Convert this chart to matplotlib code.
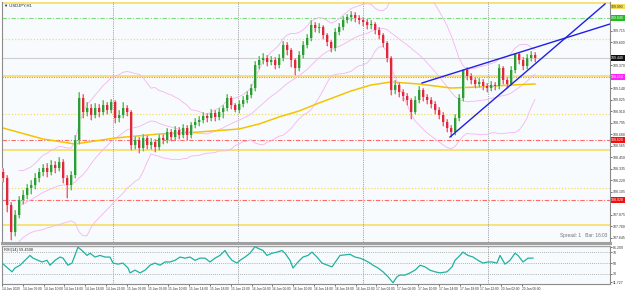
import numpy as np
import pandas as pd
import matplotlib
matplotlib.use("Agg")
import matplotlib.pyplot as plt
from matplotlib.transforms import blended_transform_factory

# ---------------- data ----------------
symbol = "USDJPY,H1"
opens = [108.30,108.24,107.97,107.70,107.87,108.02,108.07,108.14,108.17,108.24,
         108.30,108.34,108.30,108.37,108.34,108.40,108.24,108.17,108.27,108.62,
         109.04,108.90,108.94,108.87,108.94,108.90,108.97,108.92,109.00,108.84,
         108.87,108.94,108.90,108.57,108.62,108.54,108.64,108.57,108.60,108.55,
         108.64,108.62,108.70,108.65,108.72,108.67,108.74,108.67,108.77,108.80,
         108.82,108.86,108.84,108.89,108.85,108.90,108.94,109.04,108.97,108.92,
         108.98,109.02,109.07,109.14,109.37,109.42,109.44,109.40,109.42,109.37,
         109.44,109.57,109.52,109.42,109.34,109.47,109.57,109.64,109.77,109.74,
         109.75,109.67,109.60,109.54,109.70,109.75,109.82,109.85,109.87,109.84,
         109.82,109.80,109.77,109.78,109.72,109.67,109.59,109.44,109.12,109.17,
         109.10,109.06,109.02,108.90,109.02,109.12,109.05,109.02,108.98,108.92,
         108.87,108.80,108.74,108.70,108.84,109.04,109.32,109.26,109.22,109.18,
         109.20,109.16,109.14,109.17,109.16,109.34,109.22,109.18,109.32,109.48,
         109.42,109.36,109.44,109.47]
closes = [108.24,107.97,107.70,107.87,108.02,108.07,108.14,108.17,108.24,108.30,
          108.34,108.30,108.37,108.34,108.40,108.24,108.17,108.27,108.62,109.04,
          108.90,108.94,108.87,108.94,108.90,108.97,108.92,109.00,108.84,108.87,
          108.94,108.90,108.57,108.62,108.54,108.64,108.57,108.60,108.55,108.64,
          108.62,108.70,108.65,108.72,108.67,108.74,108.67,108.77,108.80,108.82,
          108.86,108.84,108.89,108.85,108.90,108.94,109.04,108.97,108.92,108.98,
          109.02,109.07,109.14,109.37,109.42,109.44,109.40,109.42,109.37,109.44,
          109.57,109.52,109.42,109.34,109.47,109.57,109.64,109.77,109.74,109.75,
          109.67,109.60,109.54,109.70,109.75,109.82,109.85,109.87,109.84,109.82,
          109.80,109.77,109.78,109.72,109.67,109.59,109.44,109.12,109.17,109.10,
          109.06,109.02,108.90,109.02,109.12,109.05,109.02,108.98,108.92,108.87,
          108.80,108.74,108.70,108.84,109.04,109.32,109.26,109.22,109.18,109.20,
          109.16,109.14,109.17,109.16,109.34,109.22,109.18,109.32,109.48,109.42,
          109.36,109.44,109.47,109.44]
highs = [108.34,108.27,108.00,107.92,108.06,108.12,108.18,108.22,108.29,108.34,
         108.38,108.39,108.42,108.41,108.45,108.43,108.27,108.31,108.67,109.10,
         109.08,109.00,108.98,108.99,108.98,109.02,109.00,109.03,109.02,108.92,
         109.00,108.97,108.92,108.66,108.65,108.68,108.67,108.64,108.63,108.68,
         108.68,108.74,108.73,108.76,108.75,108.78,108.77,108.80,108.84,108.86,
         108.90,108.89,108.93,108.92,108.94,108.97,109.08,109.06,108.99,109.02,
         109.06,109.11,109.18,109.41,109.46,109.49,109.47,109.46,109.45,109.48,
         109.61,109.60,109.54,109.44,109.51,109.61,109.68,109.82,109.80,109.79,
         109.77,109.69,109.62,109.74,109.79,109.86,109.88,109.91,109.90,109.87,
         109.85,109.83,109.82,109.80,109.75,109.69,109.61,109.46,109.22,109.20,
         109.13,109.09,109.04,109.06,109.16,109.14,109.08,109.05,109.01,108.95,
         108.90,108.83,108.77,108.88,109.08,109.33,109.35,109.29,109.25,109.24,
         109.23,109.19,109.21,109.20,109.38,109.36,109.25,109.36,109.49,109.50,
         109.45,109.48,109.51,109.50]
lows = [108.20,107.90,107.62,107.66,107.84,107.98,108.03,108.08,108.13,108.20,
        108.26,108.25,108.27,108.29,108.31,108.19,108.04,108.12,108.24,108.58,
        108.84,108.86,108.82,108.84,108.85,108.87,108.88,108.89,108.79,108.80,
        108.84,108.86,108.52,108.53,108.49,108.51,108.53,108.53,108.50,108.52,
        108.58,108.59,108.61,108.62,108.63,108.64,108.62,108.64,108.74,108.76,
        108.79,108.80,108.81,108.81,108.82,108.84,108.91,108.93,108.90,108.89,
        108.95,108.99,109.04,109.11,109.33,109.38,109.36,109.37,109.33,109.34,
        109.41,109.47,109.35,109.27,109.31,109.44,109.54,109.61,109.70,109.69,
        109.63,109.56,109.50,109.51,109.67,109.72,109.79,109.81,109.80,109.78,
        109.76,109.73,109.73,109.68,109.63,109.55,109.40,109.07,109.08,109.05,
        109.01,108.97,108.83,108.88,108.99,109.01,108.98,108.94,108.88,108.83,
        108.76,108.70,108.65,108.67,108.81,109.01,109.22,109.18,109.14,109.15,
        109.12,109.10,109.11,109.12,109.13,109.18,109.14,109.17,109.29,109.38,
        109.32,109.33,109.41,109.40]

# slow moving average (at these bars)
ma_bars = [0, 10, 18, 28, 39, 49, 59, 64, 69, 74, 79, 87, 92, 97, 104, 112, 119, 127, 133]
ma_vals = [108.74, 108.63, 108.58, 108.64, 108.68, 108.70, 108.73, 108.78, 108.85, 108.91,
           108.99, 109.11, 109.17, 109.20, 109.18, 109.14, 109.15, 109.17, 109.18]

# RSI(14) readings
rsi_pos = [-0.25, 2.25, 3, 4.25, 5.5, 6.75, 7.5, 8.75, 9.75, 11, 11.75, 13, 14.25, 15,
           16.25, 17.25, 18.75, 19.75, 21, 21.75, 23, 24.25, 25.5, 26.75, 27.5, 28.75,
           30, 31.25, 31.75, 33, 34.25, 35.5, 36.75, 38, 39.25, 40.5, 41.75, 43, 44.25,
           45.5, 46.75, 48, 49.25, 50.5, 51.75, 53, 54.25, 55.5, 56.25, 57.25, 58.5,
           59.25, 60.5, 61.75, 63, 63.75, 65, 66, 67.25, 68.5, 69.75, 70.5, 71.75, 72.5,
           73.75, 75, 76.25, 77.25, 78.5, 79.75, 82.25, 84.25, 86.75, 88, 89.25, 90.5,
           91.75, 92.5, 93.75, 95, 96.25, 97.5, 98.5, 99.25, 100.5, 101.75, 103, 104.25,
           105.5, 106.75, 108, 109.25, 111, 112.25, 113, 114.25, 115, 116.25, 117.5,
           118.75, 120, 121.25, 122.25, 123.5, 124.25, 125.5, 126.75, 128, 128.75, 130,
           131.25, 132.5]
rsi_vals = [50, 34, 41, 46, 55, 64, 59, 55, 52, 55, 46, 55, 61, 59,
            46, 50, 79, 73, 64, 68, 61, 64, 61, 61, 50, 48,
            50, 41, 32, 37, 32, 37, 46, 50, 46, 52, 52, 55, 61,
            59, 61, 55, 59, 59, 52, 59, 64, 73, 64, 55, 50,
            55, 61, 68, 80, 77, 73, 64, 68, 70, 73, 68, 55, 41,
            52, 61, 64, 70, 61, 50, 43, 64, 66, 61, 59, 55,
            50, 46, 41, 34, 25, 14, 25, 28, 28, 32, 37, 46,
            43, 37, 34, 32, 34, 43, 55, 64, 70, 64, 61,
            55, 50, 52, 52, 50, 64, 48, 55, 68, 64, 52,
            59, 59]
rsi_levels = [70, 50, 30]

# horizontal levels
yellow_solid_levels = [109.99, 109.26, 108.52, 107.77]
yellow_dotted_levels = [109.63, 108.88, 108.14]
red_levels = [108.62, 108.02]
green_level = 109.84
magenta_level = 109.25
bid_price = 109.44
top_level = 109.99

# trendlines (rising wedge)
upper_tl_bars = [104.75, 151.75]
upper_tl_prices = [109.19, 109.78]
lower_tl_bars = [111.75, 150.5]
lower_tl_prices = [108.65, 109.98]

# period separators (bar positions)
day_breaks = [27.5, 58.75, 90.0, 121.25]

date_labels = ["14 Jan 2020", "14 Jan 06:00", "14 Jan 10:00", "14 Jan 14:00",
               "14 Jan 18:00", "14 Jan 22:00", "15 Jan 02:00", "15 Jan 06:00",
               "15 Jan 10:00", "15 Jan 14:00", "15 Jan 18:00", "15 Jan 22:00",
               "16 Jan 02:00", "16 Jan 06:00", "16 Jan 10:00", "16 Jan 14:00",
               "16 Jan 18:00", "16 Jan 22:00", "17 Jan 02:00", "17 Jan 06:00",
               "17 Jan 10:00", "17 Jan 14:00", "17 Jan 18:00", "17 Jan 22:00",
               "20 Jan 02:00", "20 Jan 06:00"]

assert len(opens) == len(closes) == len(highs) == len(lows)
assert len(rsi_pos) == len(rsi_vals)

# ---------------- figure ----------------
plt.rcParams["font.family"] = ["Liberation Sans", "DejaVu Sans"]
W, H = 625, 292
fig = plt.figure(figsize=(W / 100, H / 100), dpi=100, facecolor="white")

ax = fig.add_axes([2 / W, 1 - 243 / H, 608 / W, 241 / H])
axr = fig.add_axes([2 / W, 1 - 284 / H, 608 / W, 38 / H], sharex=ax)
bg = "#f7fbfd"
for a in (ax, axr):
    a.set_facecolor(bg)
    for s in a.spines.values():
        s.set_color("#8c8c8c")
        s.set_linewidth(0.8)
    a.spines["top"].set_visible(False)

ax.spines["bottom"].set_linewidth(2.2)
ax.spines["bottom"].set_color("#a0a0a0")
axr.spines["top"].set_visible(True)
axr.spines["top"].set_linewidth(1.0)
axr.spines["top"].set_color("#a0a0a0")

n = len(closes)
x = np.arange(n)
ax.set_xlim(-0.25, 151.75)
ax.set_ylim(107.59, 110.00)

# levels
for lv in yellow_solid_levels:
    ax.axhline(lv, color="#f7dc55", lw=1.1, zorder=1)
for lv in yellow_dotted_levels:
    ax.axhline(lv, color="#f3dc6a", lw=0.9, ls=(0, (1, 1.5)), zorder=1)
for lv in red_levels:
    ax.axhline(lv, color="#ff6b6b", lw=0.8, ls=(0, (4, 1.5, 1, 1.5)), zorder=1)
ax.axhline(green_level, color="#7ddc7d", lw=0.8, ls=(0, (4, 1.5, 1, 1.5)), zorder=1)
ax.axhline(magenta_level, color="#ff5cff", lw=0.8, ls=(0, (1, 1.2)), zorder=1)
ax.axhline(bid_price, color="#cfcfcf", lw=0.8, zorder=1)

# period separators
for a in (ax, axr):
    for b in day_breaks:
        a.axvline(b, color="#8a8a8a", lw=0.6, ls=(0, (1, 1.2)), zorder=1)

# Bollinger bands from closes
cs = pd.Series(closes)
mid = cs.rolling(20, min_periods=5).mean()
sd = cs.rolling(20, min_periods=5).std(ddof=0)
for band in (mid, mid + 2 * sd, mid - 2 * sd):
    ax.plot(x, band, color="#f6b4f0", lw=0.6, zorder=2)

# moving average
ax.plot(ma_bars, ma_vals, color="#f5c400", lw=1.1, zorder=2)

# candles
o = np.array(opens); c = np.array(closes); h = np.array(highs); l = np.array(lows)
up = c >= o
for mask, pale, solid in ((up, "#a9dca9", "#2f9a3a"), (~up, "#f5b0bb", "#e0283c")):
    ax.vlines(x[mask], l[mask], h[mask], color=pale, lw=1.4, zorder=3)
    ax.vlines(x[mask], l[mask], h[mask], color=solid, lw=0.4, zorder=3)
    bottoms = np.minimum(o, c)[mask]
    heights = np.maximum(np.abs(c - o)[mask], 0.006)
    ax.bar(x[mask], heights, bottom=bottoms, width=0.75, color=pale, zorder=3, linewidth=0)
    ax.bar(x[mask], heights, bottom=bottoms, width=0.35, color=solid, zorder=4, linewidth=0)

# trendlines
ax.plot(upper_tl_bars, upper_tl_prices, color="#1f1fe6", lw=1.0, zorder=5)
ax.plot(lower_tl_bars, lower_tl_prices, color="#1f1fe6", lw=1.0, zorder=5)

# right price axis
boxed = [top_level, green_level, bid_price, magenta_level] + red_levels
ax.yaxis.tick_right()
pt = [v for v in np.arange(107.645, 110.0, 0.115)
      if min(abs(v - b) for b in boxed) > 0.05 and v > 107.62]
ax.set_yticks(pt)
ax.set_yticklabels([f"{v:.3f}" for v in pt])
ax.tick_params(axis="y", labelsize=2.5, length=1.5, width=0.5, pad=0.8, colors="#333333")
ax.tick_params(axis="x", bottom=False, labelbottom=False)

tr = blended_transform_factory(ax.transAxes, ax.transData)
for val, ypos, fc, tc in ((top_level, 109.955, "#f7dc55", "#333333"),
                          (green_level, green_level, "#22bb22", "white"),
                          (bid_price, bid_price, "#111111", "white"),
                          (magenta_level, magenta_level, "#ff22ff", "white"),
                          (red_levels[0], red_levels[0], "#ee1111", "white"),
                          (red_levels[1], red_levels[1], "#ee1111", "white")):
    ax.text(1.002, ypos, f"{val:.3f}", transform=tr, fontsize=2.5, color=tc,
            va="center", ha="left", clip_on=False, zorder=10,
            bbox=dict(boxstyle="square,pad=0.2", fc=fc, ec="none"))

ax.text(0.004, 0.992, "\u25bc " + symbol, transform=ax.transAxes, fontsize=3.0,
        va="top", ha="left", color="#222222")
ax.text(0.995, 0.022, "Spread: 1   Bar: 16:03", transform=ax.transAxes, fontsize=3.4,
        va="bottom", ha="right", color="#707070")

# RSI panel
axr.set_ylim(11.7, 81.2)
for lv in rsi_levels:
    axr.axhline(lv, color="#9a9a9a", lw=0.6, ls=(0, (1, 1.5)), zorder=1)
axr.plot(rsi_pos, rsi_vals, color="#20b2a0", lw=0.9, zorder=3)
axr.yaxis.tick_right()
axr.set_yticks([78.5, 70, 50, 30, 14.5])
axr.set_yticklabels(["81.209", "70", "50", "30", "11.727"])
axr.tick_params(axis="y", labelsize=2.5, length=1.5, width=0.5, pad=0.8, colors="#333333")
axr.text(0.004, 0.95, "RSI(14) 59.4508", transform=axr.transAxes, fontsize=2.8,
         va="top", ha="left", color="#222222")

date_pos = [-0.25 + 5.2 * k for k in range(len(date_labels))]
axr.set_xticks(date_pos)
axr.set_xticklabels(date_labels)
axr.tick_params(axis="x", labelsize=2.3, length=1.5, width=0.5, pad=1, colors="#333333")
for lab in axr.get_xticklabels():
    lab.set_horizontalalignment("left")

fig.savefig("out.png", dpi=100, facecolor="white")
